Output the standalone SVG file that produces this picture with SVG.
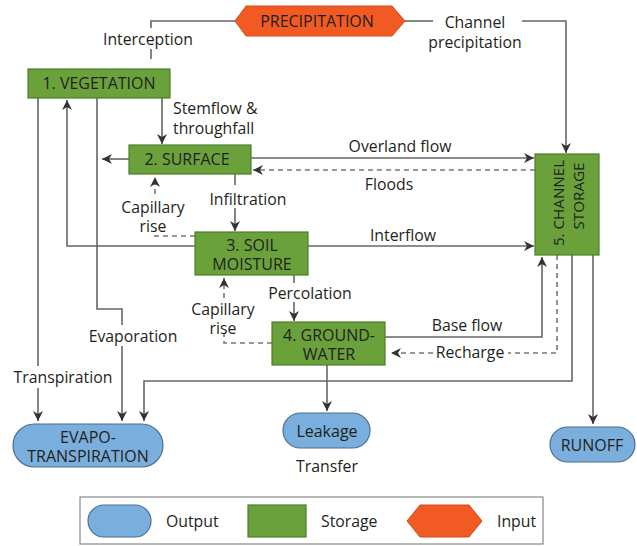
<svg xmlns="http://www.w3.org/2000/svg" width="637" height="546" viewBox="0 0 637 546">
  <defs>
    <marker id="arrow" viewBox="0 0 10 10" refX="10" refY="5" markerWidth="10" markerHeight="10" markerUnits="userSpaceOnUse" orient="auto">
      <path d="M0,0 L10,5 L0,10 L3,5 z" fill="#333"/>
    </marker>
    <style>
      text { font-family: "Open Sans", "Noto Sans", "Liberation Sans", sans-serif; fill: #231f20; }
      .lbl { font-size: 15.8px; text-anchor: middle; }
      .box { font-size: 16px; text-anchor: middle; }
      .vbox { font-size: 15.2px; text-anchor: middle; }
      .store { fill: #6aa13a; stroke: #4e7d2b; stroke-width: 1.2; }
      .out { fill: #7aaedc; stroke: #4d6f93; stroke-width: 1.2; }
      .inp { fill: #f15a22; stroke: #d04a1a; stroke-width: 1; }
      .ln { fill: none; stroke: #666; stroke-width: 1.6; }
      .dash { fill: none; stroke: #777; stroke-width: 1.6; stroke-dasharray: 5 4; }
      .arr { marker-end: url(#arrow); }
    </style>
  </defs>
  <rect width="637" height="546" fill="#fff"/>

  <!-- connectors -->
  <g id="connectors">
    <!-- interception -->
    <path class="ln" d="M235,21 H151 V28"/>
    <path class="ln" d="M151,49 V59"/>
    <!-- channel precipitation -->
    <path class="ln" d="M405,21 H433"/>
    <path class="ln arr" d="M522,21 H566 V153"/>
    <!-- stemflow & throughfall -->
    <path class="ln arr" d="M162,98 V144"/>
    <!-- surface to evapotranspiration -->
    <path class="ln arr" d="M129,159 H102"/>
    <!-- transpiration -->
    <path class="ln" d="M38,98 V366"/>
    <path class="ln arr" d="M38,388 V421"/>
    <!-- evaporation -->
    <path class="ln" d="M97,98 V309 H122 V325"/>
    <path class="ln arr" d="M122,346 V421"/>
    <!-- soil moisture to vegetation -->
    <path class="ln arr" d="M195,246 H67 V100"/>
    <!-- infiltration -->
    <path class="ln" d="M235,174 V185"/>
    <path class="ln arr" d="M235,208 V231"/>
    <!-- capillary rise soil -> surface -->
    <path class="dash" d="M195,236 H155 V232"/>
    <path class="dash arr" d="M155,194 V177"/>
    <!-- overland flow -->
    <path class="ln arr" d="M251,158 H534"/>
    <!-- floods -->
    <path class="dash arr" d="M535,170 H253"/>
    <!-- interflow -->
    <path class="ln arr" d="M308,246 H534"/>
    <!-- percolation -->
    <path class="ln" d="M294,275 V283"/>
    <path class="ln arr" d="M294,302 V321"/>
    <!-- capillary rise groundwater -> soil -->
    <path class="dash" d="M272,343 H224 V334"/>
    <path class="dash arr" d="M224,298 V278"/>
    <!-- base flow -->
    <path class="ln arr" d="M385,337 H542 V257"/>
    <!-- recharge -->
    <path class="dash" d="M557,255 V353 H508"/>
    <path class="dash arr" d="M433,353 H391"/>
    <!-- channel to evapotranspiration -->
    <path class="ln arr" d="M572,255 V381 H144 V421"/>
    <!-- runoff -->
    <path class="ln arr" d="M593,255 V424"/>
    <!-- leakage -->
    <path class="ln arr" d="M327,365 V411"/>
  </g>

  <!-- connector labels -->
  <g id="labels">
    <text class="lbl" x="148" y="45">Interception</text>
    <text class="lbl" x="475" y="28">Channel</text>
    <text class="lbl" x="475" y="48">precipitation</text>
    <text class="lbl" x="173" y="114" style="text-anchor:start">Stemflow &amp;</text>
    <text class="lbl" x="173" y="134" style="text-anchor:start">throughfall</text>
    <text class="lbl" x="400" y="152">Overland flow</text>
    <text class="lbl" x="389" y="190">Floods</text>
    <text class="lbl" x="248" y="205">Infiltration</text>
    <text class="lbl" x="153" y="213">Capillary</text>
    <text class="lbl" x="153" y="232">rise</text>
    <text class="lbl" x="403" y="241">Interflow</text>
    <text class="lbl" x="310" y="299">Percolation</text>
    <text class="lbl" x="223" y="315">Capillary</text>
    <text class="lbl" x="223" y="334">rise</text>
    <text class="lbl" x="467" y="331">Base flow</text>
    <text class="lbl" x="470" y="358">Recharge</text>
    <text class="lbl" x="133" y="342">Evaporation</text>
    <text class="lbl" x="63" y="383">Transpiration</text>
    <text class="lbl" x="327" y="472">Transfer</text>
  </g>

  <!-- nodes -->
  <g id="precipitation">
    <polygon class="inp" points="235,21 246,6 392,6 405,21 392,36 246,36"/>
    <text class="box" x="317" y="27">PRECIPITATION</text>
  </g>
  <g id="vegetation">
    <rect class="store" x="28" y="69" width="142" height="29"/>
    <text class="box" x="99" y="89">1. VEGETATION</text>
  </g>
  <g id="surface">
    <rect class="store" x="129" y="145" width="122" height="29"/>
    <text class="box" x="187" y="165">2. SURFACE</text>
  </g>
  <g id="soil-moisture">
    <rect class="store" x="195" y="232" width="113" height="43"/>
    <text class="box" x="252" y="251">3. SOIL</text>
    <text class="box" x="252" y="270">MOISTURE</text>
  </g>
  <g id="groundwater">
    <rect class="store" x="272" y="322" width="113" height="43"/>
    <text class="box" x="329" y="341">4. GROUND-</text>
    <text class="box" x="329" y="360">WATER</text>
  </g>
  <g id="channel-storage">
    <rect class="store" x="535" y="154" width="64" height="101"/>
    <text class="vbox" transform="translate(564,203) rotate(-90)">5. CHANNEL</text>
    <text class="vbox" transform="translate(584,196) rotate(-90)">STORAGE</text>
  </g>
  <g id="evapotranspiration">
    <rect class="out" x="13" y="424" width="150" height="43" rx="21.5"/>
    <text class="box" x="88" y="443">EVAPO-</text>
    <text class="box" x="88" y="462">TRANSPIRATION</text>
  </g>
  <g id="leakage">
    <rect class="out" x="283" y="413" width="87" height="35" rx="17.5"/>
    <text class="box" x="327" y="437">Leakage</text>
  </g>
  <g id="runoff">
    <rect class="out" x="550" y="427" width="85" height="35" rx="17.5"/>
    <text class="box" x="592" y="451">RUNOFF</text>
  </g>

  <!-- legend -->
  <g id="legend">
    <rect x="80" y="497" width="463" height="47" fill="#fff" stroke="#888" stroke-width="1.2"/>
    <rect class="out" x="88" y="505" width="63" height="32" rx="16"/>
    <text class="lbl" x="166" y="527" style="text-anchor:start">Output</text>
    <rect class="store" x="248" y="505" width="58" height="32"/>
    <text class="lbl" x="321" y="527" style="text-anchor:start">Storage</text>
    <polygon class="inp" points="407,521 420,505 469,505 482,521 469,537 420,537"/>
    <text class="lbl" x="497" y="527" style="text-anchor:start">Input</text>
  </g>
</svg>
